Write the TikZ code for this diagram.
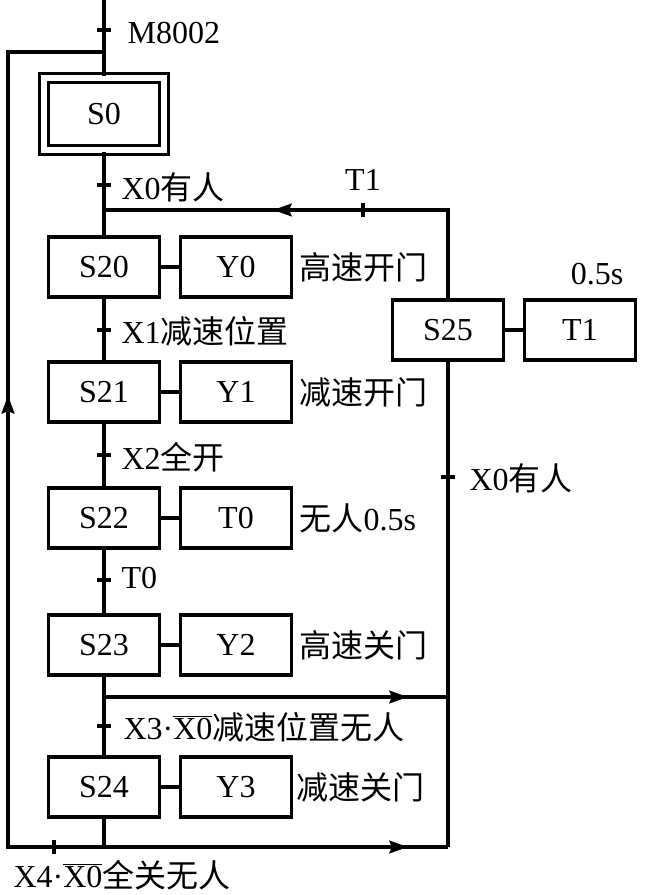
\documentclass[tikz,border=0pt]{standalone}
\usepackage{fontspec}
\setmainfont{Liberation Serif}
\newfontfamily\cjk{Noto Sans CJK SC}
\usetikzlibrary{shapes,arrows.meta,positioning}

\begin{document}
\begin{tikzpicture}[x=0.75pt,y=-0.75pt,line width=2.4pt,node distance=99pt,
  >={Stealth[length=14pt,width=9.5pt,inset=2pt]},
  every node/.style={font=\fontsize{24pt}{28pt}\selectfont},
  stepbox/.style={draw,rectangle,minimum width=83pt,minimum height=45pt,inner sep=0pt},
  lbl/.style={anchor=west,inner sep=0pt}]
\useasboundingbox (0,0) rectangle (653,895);

% steps and actions
\node[draw,double,double distance=4.5pt,minimum width=90pt,minimum height=54pt](s0) at (104,114){S0};
\node[stepbox](s20) at (104,267){S20};
\node[stepbox](y0)[right of=s20]{Y0};
\node[stepbox](s21) at (104,392){S21};
\node[stepbox](y1)[right of=s21]{Y1};
\node[stepbox](s22) at (104,518){S22};
\node[stepbox](t0)[right of=s22]{T0};
\node[stepbox](s23) at (104,645){S23};
\node[stepbox](y2)[right of=s23]{Y2};
\node[stepbox](s24) at (104,787){S24};
\node[stepbox](y3)[right of=s24]{Y3};
\node[stepbox](s25) at (448,330){S25};
\node[stepbox](t1)[right of=s25]{T1};

% corner points
\coordinate (top) at (104,0);
\coordinate (lm) at (104,52);
\coordinate (lt) at (8,52);
\coordinate (lb) at (8,847);
\coordinate (up) at (8,395);
\coordinate (sb) at (104,847);
\coordinate (ab) at (408,847);
\coordinate (rb) at (448,847);
\coordinate (rt) at (448,210);
\coordinate (ml) at (104,210);
\coordinate (tl) at (273,210);
\coordinate (m3) at (104,697);
\coordinate (a3) at (408,697);
\coordinate (r3) at (448,697);

\draw (top)--(s0);
\draw (s0)--(s20);
\draw (s20)--(s21);
\draw (s21)--(s22);
\draw (s22)--(s23);
\draw (s23)--(s24);
\draw (s20)--(y0);
\draw (s21)--(y1);
\draw (s22)--(t0);
\draw (s23)--(y2);
\draw (s24)--(y3);
\draw (s25)--(t1);

\draw (lm)--(lt)--(lb)--(rb);
\draw[->](lb)--(up);
\draw[->](lb)--(ab);
\draw (s24)--(sb);
\draw (rb)--(s25);
\draw (s25)--(rt)--(ml);
\draw[->](rt)--(tl);
\draw (m3)--(r3);
\draw[->](m3)--(a3);

% transition ticks
\draw (97,30)--(111,30);
\draw (97,185)--(111,185);
\draw (97,330)--(111,330);
\draw (97,455)--(111,455);
\draw (97,580)--(111,580);
\draw (97,726)--(111,726);
\draw (363,203)--(363,217);
\draw (54,840)--(54,854);
\draw (441,477)--(455,477);

% labels
\node[lbl](c0) at (126,33) {M8002};
\node[lbl](c1) at (120,187) {X0{\cjk 有人}};
\node[lbl](c2) at (120,331) {X1{\cjk 减速位置}};
\node[lbl](c3) at (120,457) {X2{\cjk 全开}};
\node[lbl](c4) at (120,578) {T0};
\node[lbl](c5) at (122,727) {X3·$\overline{\hbox{X0}}${\cjk 减速位置无人}};
\node[lbl](c6) at (12,875) {X4·$\overline{\hbox{X0}}${\cjk 全关无人}};
\node[lbl](c7) at (468,478) {X0{\cjk 有人}};
\node(c8) at (363,180) {T1};
\node(c9) at (597,274) {0.5s};

\node[lbl](d0) at (298,267) {{\cjk 高速开门}};
\node[lbl](d1) at (298,392) {{\cjk 减速开门}};
\node[lbl](d2) at (298,518) {{\cjk 无人}0.5s};
\node[lbl](d3) at (298,645) {{\cjk 高速关门}};
\node[lbl](d4) at (295,787) {{\cjk 减速关门}};
\end{tikzpicture}
\end{document}
